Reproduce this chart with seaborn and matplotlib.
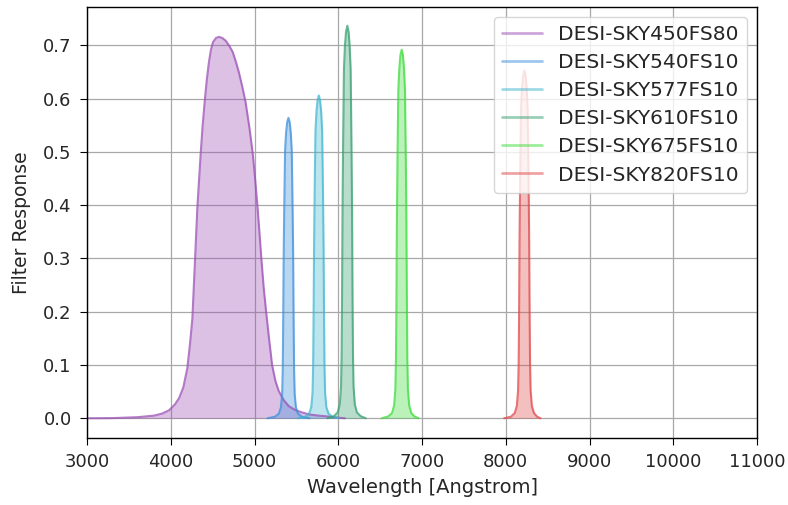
import numpy as np
import pandas as pd
import matplotlib
matplotlib.use("Agg")
import matplotlib.pyplot as plt
import seaborn as sns

# ---- data ----
names = ["DESI-SKY450FS80", "DESI-SKY540FS10", "DESI-SKY577FS10",
         "DESI-SKY610FS10", "DESI-SKY675FS10", "DESI-SKY820FS10"]

wl_450 = [3000, 3300, 3600, 3800, 3900, 3980, 4050, 4100, 4150, 4198, 4230, 4258,
          4290, 4318, 4357, 4380, 4405, 4430, 4456, 4480, 4504, 4540, 4575, 4615,
          4655, 4700, 4742, 4780, 4813, 4855, 4893, 4940, 4980, 5010, 5036, 5060,
          5083, 5110, 5139, 5170, 5210, 5250, 5290, 5350, 5408, 5480, 5567, 5660,
          5765, 5900, 6000, 6080]
r_450 = [0.0, 0.0003, 0.002, 0.005, 0.009, 0.015, 0.026, 0.038, 0.058, 0.094, 0.14, 0.187,
         0.298, 0.397, 0.496, 0.548, 0.594, 0.635, 0.669, 0.692, 0.706, 0.714, 0.716, 0.714,
         0.709, 0.699, 0.687, 0.668, 0.650, 0.622, 0.594, 0.545, 0.496, 0.445, 0.397, 0.347,
         0.298, 0.245, 0.200, 0.155, 0.100, 0.070, 0.051, 0.034, 0.023, 0.016, 0.011, 0.007,
         0.005, 0.003, 0.001, 0.0]

wl_540 = [5155, 5245, 5290, 5315, 5330, 5337, 5342, 5348, 5355, 5365, 5377, 5390, 5405,
          5420, 5433, 5445, 5455, 5462, 5468, 5473, 5480, 5495, 5520, 5565, 5655]
r_540 = [0.0, 0.003, 0.0085, 0.02, 0.045, 0.09, 0.169, 0.30, 0.395, 0.502, 0.536, 0.556, 0.564,
         0.556, 0.536, 0.502, 0.395, 0.30, 0.169, 0.09, 0.045, 0.02, 0.0085, 0.003, 0.0]

wl_577 = [5518, 5608, 5653, 5678, 5693, 5700, 5705, 5711, 5718, 5728, 5740, 5753, 5768,
          5783, 5796, 5808, 5818, 5825, 5831, 5836, 5843, 5858, 5883, 5928, 6010]
r_577 = [0.0, 0.003, 0.009, 0.021, 0.048, 0.097, 0.182, 0.321, 0.424, 0.539, 0.576, 0.597, 0.606,
         0.597, 0.576, 0.539, 0.424, 0.321, 0.182, 0.097, 0.048, 0.021, 0.009, 0.003, 0.0]

wl_610 = [5870, 5948, 5993, 6018, 6033, 6040, 6045, 6051, 6058, 6068, 6080, 6093, 6108,
          6123, 6136, 6148, 6158, 6165, 6171, 6176, 6183, 6198, 6223, 6268, 6330]
r_610 = [0.0, 0.004, 0.011, 0.026, 0.059, 0.118, 0.221, 0.391, 0.516, 0.656, 0.700, 0.726, 0.737,
         0.726, 0.700, 0.656, 0.516, 0.391, 0.221, 0.118, 0.059, 0.026, 0.011, 0.004, 0.0]

wl_675 = [6520, 6597, 6642, 6667, 6682, 6689, 6694, 6700, 6707, 6717, 6729, 6742, 6757,
          6772, 6785, 6797, 6807, 6814, 6820, 6825, 6832, 6847, 6872, 6910, 6960]
r_675 = [0.0, 0.0035, 0.010, 0.024, 0.055, 0.111, 0.208, 0.367, 0.484, 0.616, 0.657, 0.682, 0.692,
         0.682, 0.657, 0.616, 0.484, 0.367, 0.208, 0.111, 0.055, 0.024, 0.010, 0.0035, 0.0]

wl_820 = [7980, 8062, 8107, 8132, 8147, 8154, 8159, 8165, 8172, 8182, 8194, 8207, 8222,
          8237, 8250, 8262, 8272, 8279, 8285, 8290, 8297, 8312, 8337, 8375, 8415]
r_820 = [0.0, 0.003, 0.0098, 0.023, 0.052, 0.104, 0.196, 0.346, 0.457, 0.581, 0.620, 0.643, 0.653,
         0.643, 0.620, 0.581, 0.457, 0.346, 0.196, 0.104, 0.052, 0.023, 0.0098, 0.003, 0.0]

xticks = [3000, 4000, 5000, 6000, 7000, 8000, 9000, 10000, 11000]
yticks = [0.0, 0.1, 0.2, 0.3, 0.4, 0.5, 0.6, 0.7]

colors = ["#9b4fb5", "#3b8fdc", "#3fb6cf", "#36a06f", "#3bdc3b", "#e0484a"]

# ---- plotting ----
sns.set_style("ticks")
plt.rcParams['font.family'] = ['DejaVu Sans']

fig = plt.figure(figsize=(7.88, 5.05), dpi=100)
ax = fig.add_axes([0.1104, 0.1327, 0.8503, 0.8533])

series = [(wl_450, r_450), (wl_540, r_540), (wl_577, r_577),
          (wl_610, r_610), (wl_675, r_675), (wl_820, r_820)]

for (wl, r), name, c in zip(series, names, colors):
    df = pd.DataFrame({"wl": wl, "r": r})
    sns.lineplot(data=df, x="wl", y="r", ax=ax, color=c, alpha=0.75,
                 linewidth=1.5, label=name, sort=False)
    ax.fill_between(df["wl"], 0, df["r"], color=c, alpha=0.35, linewidth=0)

ax.set_xlim(3000, 11000)
ax.set_ylim(-0.037, 0.772)
ax.set_xticks(xticks)
ax.set_yticks(yticks)
ax.set_yticklabels([f"{v:.1f}" for v in yticks])
ax.grid(True, color="#a8a8a8", linewidth=0.9)
ax.set_axisbelow(True)
for s in ax.spines.values():
    s.set_visible(True)
    s.set_color("black")
    s.set_linewidth(1.0)
ax.tick_params(axis="both", labelsize=13, direction="out", length=5, color="black",
               labelcolor="#262626", pad=6)
ax.set_xlabel("Wavelength [Angstrom]", fontsize=14, color="#262626", labelpad=5)
ax.set_ylabel("Filter Response", fontsize=13.5, color="#262626", labelpad=9)

leg = ax.legend(loc="upper right", fontsize=14.5, frameon=True, handlelength=2.0,
                labelspacing=0.45, borderpad=0.4)
for line in leg.get_lines():
    line.set_alpha(0.5)
    line.set_linewidth(2.0)
for t in leg.get_texts():
    t.set_color("#262626")

fig.savefig("out.png", dpi=100)
